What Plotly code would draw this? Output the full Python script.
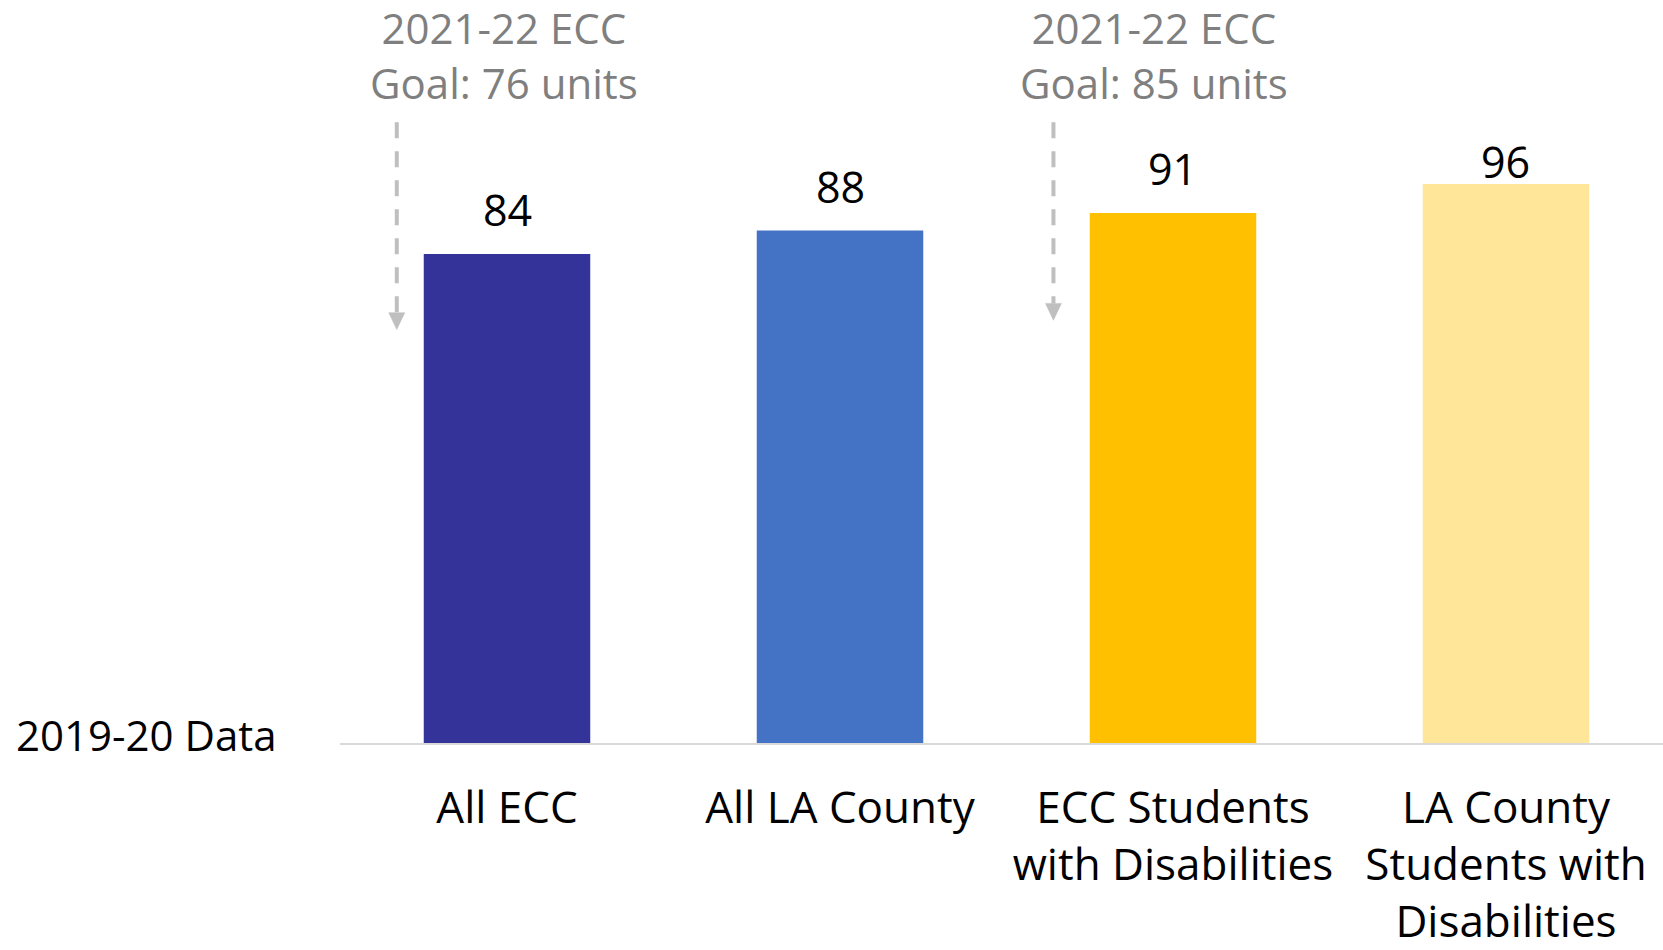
import plotly.graph_objects as go

categories = ["All ECC", "All LA County", "ECC Students<br>with Disabilities",
              "LA County<br>Students with<br>Disabilities"]
values = [84, 88, 91, 96]
bar_colors = ["#333399", "#4472C4", "#FFC000", "#FFE699"]
goal_texts = ["2021-22 ECC<br>Goal: 76 units", "2021-22 ECC<br>Goal: 85 units"]
row_label = "2019-20 Data"

# styling offsets for the value labels (pixels)
label_shifts = [13, 13, 13, -9]

FONT = "Open Sans, Liberation Sans, sans-serif"
xpos = list(range(len(categories)))

Y_MAX = 127.6
PLOT_W, PLOT_H = 1323, 749
X_RANGE = [-0.5015, 3.4715]
PX_X = PLOT_W / (X_RANGE[1] - X_RANGE[0])   # pixels per x unit
PX_Y = PLOT_H / Y_MAX                         # pixels per y unit

fig = go.Figure()
fig.add_trace(go.Bar(
    x=xpos, y=values, width=0.5,
    marker=dict(color=bar_colors, line=dict(width=0)),
    showlegend=False, hoverinfo="skip",
))

# dashed goal arrows (decorations): (x, top y, tip y)
arrow_specs = [(-0.331, 106.6, 71.0), (1.641, 106.6, 72.6)]
HEAD_H, HEAD_W = 17, 16   # arrowhead size in pixels
for ax_, y0, tip in arrow_specs:
    head_top = tip + HEAD_H / PX_Y
    half = HEAD_W / 2 / PX_X
    fig.add_trace(go.Scatter(
        x=[ax_, ax_], y=[y0, head_top], mode="lines",
        line=dict(color="#BFBFBF", width=4, dash="16px,13px"),
        showlegend=False, hoverinfo="skip",
    ))
    fig.add_trace(go.Scatter(
        x=[ax_ - half, ax_ + half, ax_, ax_ - half],
        y=[head_top, head_top, tip, head_top],
        mode="lines", fill="toself", fillcolor="#BFBFBF",
        line=dict(color="#BFBFBF", width=0.5),
        showlegend=False, hoverinfo="skip",
    ))

annotations = []
for x, v, s in zip(xpos, values, label_shifts):
    annotations.append(dict(
        x=x, y=v, xref="x", yref="y", text=str(v), showarrow=False,
        yanchor="bottom", yshift=s,
        font=dict(family=FONT, size=43, color="#000000"),
    ))

for gx, gt in zip([-0.008, 1.943], goal_texts):
    annotations.append(dict(
        x=gx, y=118.2, xref="x", yref="y", text=gt, showarrow=False,
        yanchor="middle", xanchor="center", borderpad=0,
        font=dict(family=FONT, size=42, color="#7F7F7F"),
    ))

annotations.append(dict(
    x=-0.2464, y=1.4, xref="paper", yref="y", text=row_label, showarrow=False,
    xanchor="left", yanchor="middle",
    font=dict(family=FONT, size=42, color="#000000"),
))

fig.update_layout(
    width=1663, height=950,
    margin=dict(l=340, r=0, t=0, b=201),
    paper_bgcolor="white", plot_bgcolor="white",
    font=dict(family=FONT, color="#000000"),
    annotations=annotations,
    xaxis=dict(
        range=X_RANGE, tickvals=xpos, ticktext=categories,
        showgrid=False, zeroline=False, showline=True,
        linecolor="#D9D9D9", linewidth=2, ticks="",
        ticklabelstandoff=25,
        tickfont=dict(family=FONT, size=44, color="#000000"),
    ),
    yaxis=dict(
        range=[0, Y_MAX], visible=False, showgrid=False, zeroline=False,
    ),
)

fig.write_html(
    "out.html",
    config={"displayModeBar": False},
    post_script="document.body.style.margin='0';document.body.style.overflow='hidden';",
)
